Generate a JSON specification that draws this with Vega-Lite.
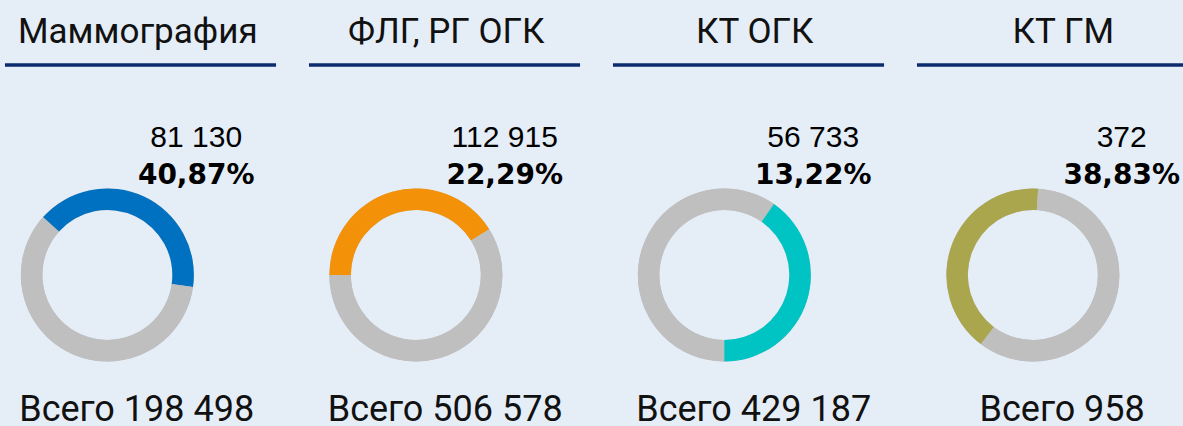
{
  "$schema": "https://vega.github.io/schema/vega-lite/v6.json",
  "width": 1183,
  "height": 426,
  "autosize": "none",
  "padding": 0,
  "background": "#e5edf7",
  "config": {
    "view": {"stroke": null},
    "locale": {"number": {"decimal": ",", "thousands": "\u00a0", "grouping": [3], "currency": ["Всего ", ""]}}
  },
  "datasets": {
    "panels": [
      {"panel": "Маммография", "done": 81130, "share": 0.4087, "total": 198498},
      {"panel": "ФЛГ, РГ ОГК", "done": 112915, "share": 0.2229, "total": 506578},
      {"panel": "КТ ОГК", "done": 56733, "share": 0.1322, "total": 429187},
      {"panel": "КТ ГМ", "done": 372, "share": 0.3883, "total": 958}
    ],
    "segments": [
      {"panel": "Маммография", "group": "Прочие", "order": 1, "arc": 36.67},
      {"panel": "Маммография", "group": "Маммография", "order": 2, "arc": 40.56},
      {"panel": "Маммография", "group": "Прочие", "order": 3, "arc": 22.78},
      {"panel": "ФЛГ, РГ ОГК", "group": "Прочие", "order": 1, "arc": 25.0},
      {"panel": "ФЛГ, РГ ОГК", "group": "ФЛГ, РГ ОГК", "order": 2, "arc": 41.11},
      {"panel": "ФЛГ, РГ ОГК", "group": "Прочие", "order": 3, "arc": 33.89},
      {"panel": "КТ ОГК", "group": "Прочие", "order": 1, "arc": 59.72},
      {"panel": "КТ ОГК", "group": "КТ ОГК", "order": 2, "arc": 40.28},
      {"panel": "КТ ГМ", "group": "Прочие", "order": 1, "arc": 10.28},
      {"panel": "КТ ГМ", "group": "КТ ГМ", "order": 2, "arc": 40.69},
      {"panel": "КТ ГМ", "group": "Прочие", "order": 3, "arc": 49.03}
    ]
  },
  "encoding": {
    "y": {"type": "nominal", "scale": {"type": "band", "domain": ["header", "figures", "donut", "footer"], "range": [0, 426], "paddingInner": 0, "paddingOuter": 0}, "axis": null}
  },
  "layer": [
    {
      "data": {"name": "panels"},
      "mark": {"type": "rule", "color": "#0b2b6e", "strokeWidth": 3.5},
      "encoding": {
        "x": {"field": "panel", "type": "nominal", "bandPosition": 0.0164, "sort": null, "scale": {"type": "band", "domain": ["Маммография", "ФЛГ, РГ ОГК", "КТ ОГК", "КТ ГМ"], "range": [0, 1216], "paddingInner": 0, "paddingOuter": 0}, "axis": null},
        "x2": {"field": "panel", "bandPosition": 0.908},
        "y": {"datum": "header", "type": "nominal", "bandPosition": 0.61}
      }
    },
    {
      "data": {"name": "panels"},
      "mark": {"type": "text", "font": "Roboto", "fontSize": 35, "color": "#111111", "align": "center", "baseline": "alphabetic"},
      "encoding": {
        "x": {"field": "panel", "type": "nominal", "bandPosition": 0.4465, "sort": null, "scale": {"type": "band", "domain": ["Маммография", "ФЛГ, РГ ОГК", "КТ ОГК", "КТ ГМ"], "range": [0, 1234], "paddingInner": 0, "paddingOuter": 0}, "axis": null},
        "y": {"datum": "header", "type": "nominal", "bandPosition": 0.401},
        "text": {"field": "panel"}
      }
    },
    {
      "data": {"name": "panels"},
      "mark": {"type": "arc", "innerRadius": 65, "outerRadius": 86.5, "color": "#bfbfbf"},
      "encoding": {
        "x": {"field": "panel", "type": "nominal", "bandPosition": 0.348, "sort": null, "scale": {"type": "band", "domain": ["Маммография", "ФЛГ, РГ ОГК", "КТ ОГК", "КТ ГМ"], "range": [0, 1234], "paddingInner": 0, "paddingOuter": 0}, "axis": null},
        "y": {"datum": "donut", "type": "nominal", "bandPosition": 0.582}
      }
    },
    {
      "data": {"name": "segments"},
      "transform": [
        {"stack": "arc", "groupby": ["panel"], "sort": [{"field": "order", "order": "ascending"}], "offset": "normalize", "as": ["a0", "a1"]}
      ],
      "mark": {"type": "arc", "innerRadius": 65, "outerRadius": 86.5},
      "encoding": {
        "x": {"field": "panel", "type": "nominal", "bandPosition": 0.348, "sort": null, "scale": {"type": "band", "domain": ["Маммография", "ФЛГ, РГ ОГК", "КТ ОГК", "КТ ГМ"], "range": [0, 1234], "paddingInner": 0, "paddingOuter": 0}, "axis": null},
        "y": {"datum": "donut", "type": "nominal", "bandPosition": 0.582},
        "theta": {"field": "a0", "type": "quantitative", "scale": {"domain": [0, 1], "range": [-3.14159265, 3.14159265]}},
        "theta2": {"field": "a1"},
        "color": {"field": "group", "type": "nominal", "scale": {"domain": ["Маммография", "ФЛГ, РГ ОГК", "КТ ОГК", "КТ ГМ", "Прочие"], "range": ["#0070c0", "#f39208", "#00c4c4", "#aaa64e", "#bfbfbf"]}, "legend": null}
      }
    },
    {
      "data": {"name": "panels"},
      "mark": {"type": "text", "font": "Liberation Sans", "fontSize": 30, "color": "#000000", "align": "center", "baseline": "alphabetic"},
      "encoding": {
        "x": {"field": "panel", "type": "nominal", "bandPosition": 0.636, "sort": null, "scale": {"type": "band", "domain": ["Маммография", "ФЛГ, РГ ОГК", "КТ ОГК", "КТ ГМ"], "range": [0, 1234], "paddingInner": 0, "paddingOuter": 0}, "axis": null},
        "y": {"datum": "figures", "type": "nominal", "bandPosition": 0.383},
        "text": {"field": "done", "type": "quantitative", "format": ",d"}
      }
    },
    {
      "data": {"name": "panels"},
      "mark": {"type": "text", "font": "DejaVu Sans", "fontSize": 28, "fontWeight": "bold", "color": "#000000", "align": "center", "baseline": "alphabetic"},
      "encoding": {
        "x": {"field": "panel", "type": "nominal", "bandPosition": 0.636, "sort": null, "scale": {"type": "band", "domain": ["Маммография", "ФЛГ, РГ ОГК", "КТ ОГК", "КТ ГМ"], "range": [0, 1234], "paddingInner": 0, "paddingOuter": 0}, "axis": null},
        "y": {"datum": "figures", "type": "nominal", "bandPosition": 0.728},
        "text": {"field": "share", "type": "quantitative", "format": ".2%"}
      }
    },
    {
      "data": {"name": "panels"},
      "mark": {"type": "text", "font": "Roboto", "fontSize": 36, "color": "#111111", "align": "center", "baseline": "alphabetic"},
      "encoding": {
        "x": {"field": "panel", "type": "nominal", "bandPosition": 0.443, "sort": null, "scale": {"type": "band", "domain": ["Маммография", "ФЛГ, РГ ОГК", "КТ ОГК", "КТ ГМ"], "range": [0, 1234], "paddingInner": 0, "paddingOuter": 0}, "axis": null},
        "y": {"datum": "footer", "type": "nominal", "bandPosition": 0.95},
        "text": {"field": "total", "type": "quantitative", "format": "$,d"}
      }
    }
  ],
  "resolve": {"scale": {"x": "independent"}}
}
